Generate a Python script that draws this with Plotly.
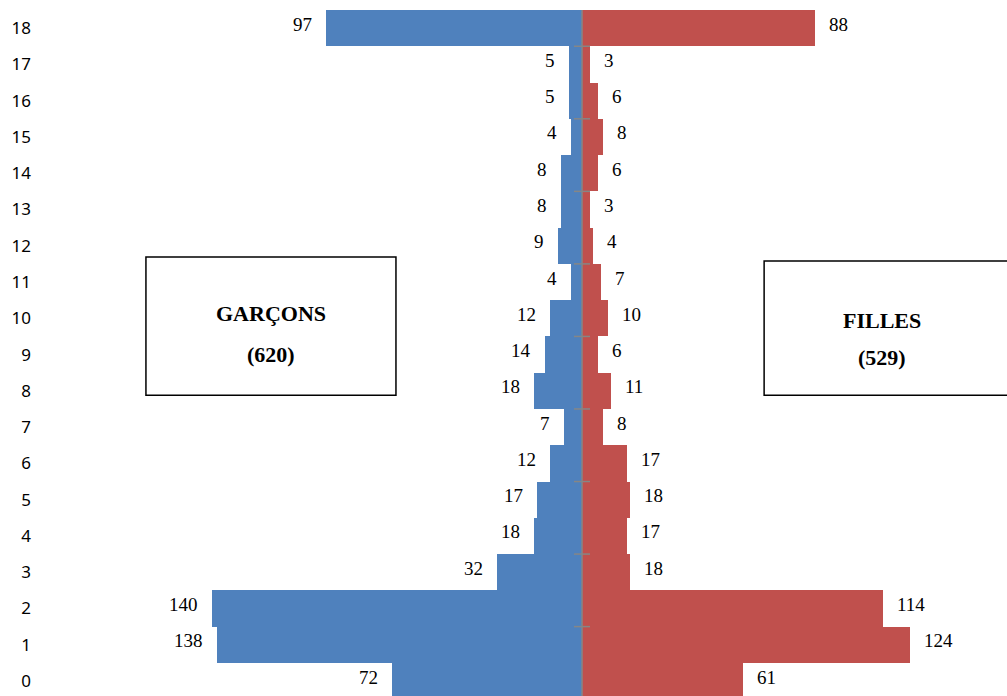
import plotly.graph_objects as go

ages = list(range(19))
garcons = [72, 138, 140, 32, 18, 17, 12, 7, 18, 14, 12, 4, 9, 8, 8, 4, 5, 5, 97]
filles = [61, 124, 114, 18, 17, 18, 17, 8, 11, 6, 10, 7, 4, 3, 6, 8, 6, 3, 88]
total_garcons = 620
total_filles = 529

blue = "#4F81BD"
red = "#C0504D"
serif = "Liberation Serif, Times New Roman, serif"

fig = go.Figure()
fig.add_trace(go.Bar(y=ages, x=[-v for v in garcons], orientation="h",
                     marker=dict(color=blue, line=dict(width=0)), name="Garçons",
                     hoverinfo="skip"))
fig.add_trace(go.Bar(y=ages, x=filles, orientation="h",
                     marker=dict(color=red, line=dict(width=0)), name="Filles",
                     hoverinfo="skip"))

annotations = []
for a, g, f in zip(ages, garcons, filles):
    annotations.append(dict(x=-g, y=a, text=str(g), showarrow=False, xanchor="right",
                            xshift=-12, yshift=4, font=dict(family=serif, size=19, color="#000")))
    annotations.append(dict(x=f, y=a, text=str(f), showarrow=False, xanchor="left",
                            xshift=12, yshift=4, font=dict(family=serif, size=19, color="#000")))

# text boxes
box_font = dict(family=serif, size=22, color="#000")
annotations += [
    dict(x=-117.7, y=10.12, text="<b>GARÇONS</b>", showarrow=False, font=box_font),
    dict(x=-117.7, y=9.01, text="<b>(%d)</b>" % total_garcons, showarrow=False, font=box_font),
    dict(x=113.5, y=9.95, text="<b>FILLES</b>", showarrow=False, font=box_font),
    dict(x=113.5, y=8.93, text="<b>(%d)</b>" % total_filles, showarrow=False, font=box_font),
]

shapes = [
    dict(type="rect", x0=-165.0, x1=-70.4, y0=7.88, y1=11.69,
         line=dict(color="#000", width=1.5), fillcolor="rgba(0,0,0,0)"),
    dict(type="rect", x0=68.9, x1=175, y0=7.88, y1=11.58,
         line=dict(color="#000", width=1.5), fillcolor="rgba(0,0,0,0)"),
    # central axis
    dict(type="line", x0=0, x1=0, y0=-0.5, y1=18.5, line=dict(color="#868686", width=1.5)),
]
# small cross ticks on the central axis, every two categories
for a in ages[1::2]:
    shapes.append(dict(type="line", xref="x", yref="y", xsizemode="pixel", xanchor=0,
                       x0=-8, x1=8, y0=a + 0.5, y1=a + 0.5,
                       line=dict(color="#868686", width=1.5)))

fig.update_layout(
    width=1007, height=696,
    margin=dict(l=36, r=0, t=10, b=0),
    plot_bgcolor="white", paper_bgcolor="white",
    barmode="overlay", bargap=0,
    showlegend=False,
    annotations=annotations,
    shapes=shapes,
    xaxis=dict(range=[-206.6, 160.8], visible=False, fixedrange=True),
    yaxis=dict(range=[-0.413, 18.5], tickmode="array", tickvals=ages,
               ticktext=[str(a) for a in ages], showgrid=False, zeroline=False,
               showline=False, ticks="", ticklabelstandoff=4, fixedrange=True,
               tickfont=dict(family="Noto Sans, Open Sans, sans-serif", size=17, color="#000")),
)

fig.write_html("out.html", config={"displayModeBar": False},
               post_script="document.body.style.margin='0';document.body.style.overflow='hidden';")
